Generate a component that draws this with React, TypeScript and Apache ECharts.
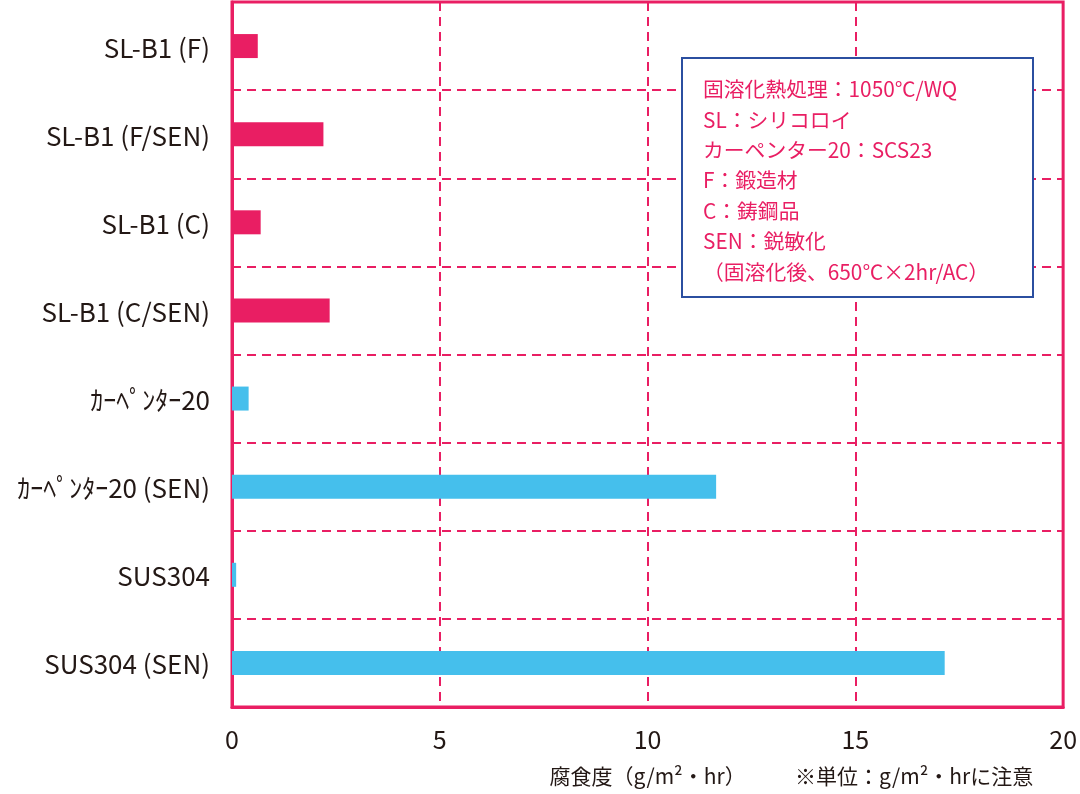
import React, { useEffect, useRef } from "react";
import * as echarts from "echarts";

const categories = [
  "SL-B1 (F)",
  "SL-B1 (F/SEN)",
  "SL-B1 (C)",
  "SL-B1 (C/SEN)",
  "ｶｰﾍﾟﾝﾀｰ20",
  "ｶｰﾍﾟﾝﾀｰ20 (SEN)",
  "SUS304",
  "SUS304 (SEN)",
];
const values = [0.62, 2.2, 0.69, 2.35, 0.4, 11.65, 0.1, 17.15];
const barColors = ["#E91E63", "#E91E63", "#E91E63", "#E91E63", "#45BFEC", "#45BFEC", "#45BFEC", "#45BFEC"];
const legendLines = [
  "固溶化熱処理：1050℃/WQ",
  "SL：シリコロイ",
  "カーペンター20：SCS23",
  "F：鍛造材",
  "C：鋳鋼品",
  "SEN：鋭敏化",
  "（固溶化後、650℃×2hr/AC）",
];
const xTicks = [0, 5, 10, 15, 20];

const PINK = "#E91E63";
const FONT = "'Noto Sans CJK JP', 'Noto Sans', sans-serif";

export default function App() {
  const ref = useRef<HTMLDivElement>(null);
  useEffect(() => {
    const chart = echarts.init(ref.current!, null, { renderer: "svg" });
    const cats = categories.slice().reverse();
    const vals = values.slice().reverse();
    const cols = barColors.slice().reverse();
    chart.setOption({
      animation: false,
      textStyle: { fontFamily: FONT },
      grid: {
        left: 232,
        right: 12,
        top: 2,
        bottom: 87,
        show: true,
        borderColor: PINK,
        borderWidth: 3,
        containLabel: false,
      },
      xAxis: {
        type: "value",
        min: xTicks[0],
        max: xTicks[xTicks.length - 1],
        interval: 5,
        axisLine: { show: true, lineStyle: { color: PINK, width: 3 } },
        axisTick: { show: false },
        axisLabel: { color: "#231815", fontSize: 25, margin: 18, fontFamily: FONT },
        splitLine: { show: true, lineStyle: { color: PINK, width: 2, type: [9, 6] } },
        name: "腐食度（g/m²・hr）",
        nameLocation: "middle",
        nameGap: 57,
        nameTextStyle: { color: "#231815", fontSize: 21, fontFamily: FONT },
      },
      yAxis: {
        type: "category",
        data: cats,
        axisLine: { show: true, lineStyle: { color: PINK, width: 3 } },
        axisTick: { show: false },
        axisLabel: { color: "#231815", fontSize: 26, margin: 22, fontFamily: FONT },
        splitLine: { show: true, lineStyle: { color: PINK, width: 2, type: [9, 6] } },
      },
      series: [
        {
          type: "bar",
          barWidth: 24,
          data: vals.map((v, i) => ({ value: v, itemStyle: { color: cols[i] } })),
        },
      ],
      graphic: [
        {
          type: "rect",
          shape: { x: 682, y: 58, width: 351, height: 239 },
          style: { fill: "#ffffff", stroke: "#2B4FA0", lineWidth: 2 },
          z: 100,
        },
        {
          type: "text",
          x: 703,
          y: 73,
          z: 101,
          style: {
            text: legendLines.join("\n"),
            fill: PINK,
            fontSize: 20.8,
            lineHeight: 30.4,
            fontFamily: FONT,
            verticalAlign: "top",
          },
        },
        {
          type: "text",
          x: 795,
          y: 775,
          z: 101,
          style: {
            text: "※単位：g/m²・hrに注意",
            fill: "#231815",
            fontSize: 21,
            fontFamily: FONT,
            verticalAlign: "middle",
          },
        },
      ],
    });
    return () => chart.dispose();
  }, []);
  return (
    <div
      ref={ref}
      style={{ position: "fixed", left: 0, top: 0, width: 1080, height: 794 }}
    />
  );
}
